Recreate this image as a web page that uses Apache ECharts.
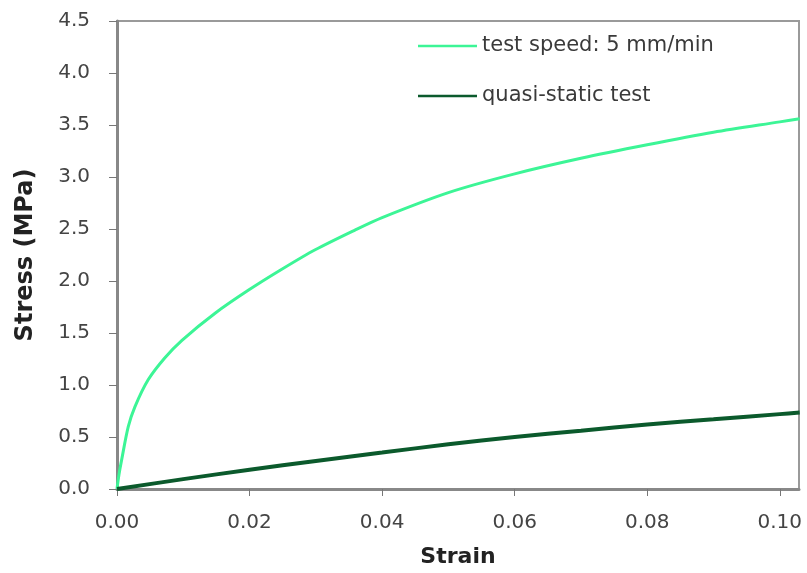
<!DOCTYPE html>
<html>
<head>
<meta charset="utf-8">
<script src="https://cdn.jsdelivr.net/npm/echarts@6/dist/echarts.min.js"></script>
<style>html,body{margin:0;padding:0;background:#fff;}#c{width:807px;height:573px;}</style>
</head>
<body>
<div id="c"></div>
<script>
const seriesNames = ['test speed: 5 mm/min', 'quasi-static test'];
const speedStrain = [0, 0.0003, 0.0007, 0.0017, 0.0027, 0.0047, 0.0072, 0.0098, 0.0148, 0.0198, 0.0248, 0.0299, 0.0359, 0.04, 0.05, 0.06, 0.07, 0.08, 0.09, 0.1, 0.103];
const speedStress = [0, 0.14, 0.28, 0.60, 0.79, 1.05, 1.26, 1.43, 1.69, 1.91, 2.11, 2.30, 2.49, 2.61, 2.85, 3.03, 3.18, 3.31, 3.43, 3.53, 3.56];
const quasiStrain = [0, 0.01, 0.02, 0.03, 0.04, 0.05, 0.06, 0.07, 0.08, 0.09, 0.1, 0.103];
const quasiStress = [0, 0.095, 0.185, 0.27, 0.35, 0.43, 0.50, 0.56, 0.62, 0.67, 0.72, 0.735];
const xTicks = { min: 0, max: 0.1029, interval: 0.02 };
const yTicks = { min: 0, max: 4.5, interval: 0.5 };

const zip = (a, b) => a.map((v, i) => [v, b[i]]);
const chart = echarts.init(document.getElementById('c'), null, { renderer: 'canvas' });
const font = 'DejaVu Sans, Verdana, sans-serif';
chart.setOption({
  animation: false,
  backgroundColor: '#fff',
  grid: { left: 117, right: 8, top: 21, bottom: 84, show: true, borderColor: '#9a9a9a', borderWidth: 2, backgroundColor: 'transparent' },
  legend: {
    left: 413, top: 30, orient: 'vertical', itemGap: 28, itemWidth: 59, itemHeight: 14,
    textStyle: { fontFamily: font, fontSize: 21, lineHeight: 22, color: '#3a3a3a' },
    icon: 'path://M0,6 L59,6 L59,8.6 L0,8.6 Z',
    data: seriesNames
  },
  xAxis: {
    type: 'value', min: xTicks.min, max: xTicks.max, interval: xTicks.interval,
    name: 'Strain', nameLocation: 'middle', nameGap: 57,
    nameTextStyle: { fontFamily: font, fontSize: 22, fontWeight: 'bold', color: '#222' },
    axisLine: { show: true, lineStyle: { color: '#888', width: 3 } },
    axisTick: { show: true, length: 7, lineStyle: { color: '#777', width: 1 } },
    axisLabel: { fontFamily: font, fontSize: 20, color: '#444', margin: 24, showMaxLabel: false, formatter: v => v.toFixed(2) },
    splitLine: { show: false }
  },
  yAxis: {
    type: 'value', min: yTicks.min, max: yTicks.max, interval: yTicks.interval,
    name: 'Stress (MPa)', nameLocation: 'middle', nameGap: 79, nameRotate: 90,
    nameTextStyle: { fontFamily: font, fontSize: 24, fontWeight: 'bold', color: '#222' },
    axisLine: { show: true, lineStyle: { color: '#888', width: 3 } },
    axisTick: { show: true, length: 8, lineStyle: { color: '#777', width: 1 } },
    axisLabel: { fontFamily: font, fontSize: 20, color: '#444', margin: 27, formatter: v => v.toFixed(1) },
    splitLine: { show: false }
  },
  series: [
    { name: seriesNames[0], type: 'line', data: zip(speedStrain, speedStress), smooth: 0.3, showSymbol: false,
      lineStyle: { color: '#3cf596', width: 3 }, itemStyle: { color: '#3cf596' } },
    { name: seriesNames[1], type: 'line', data: zip(quasiStrain, quasiStress), smooth: 0.3, showSymbol: false,
      lineStyle: { color: '#0b5a2c', width: 4 }, itemStyle: { color: '#0b5a2c' } }
  ]
});
</script>
</body>
</html>
